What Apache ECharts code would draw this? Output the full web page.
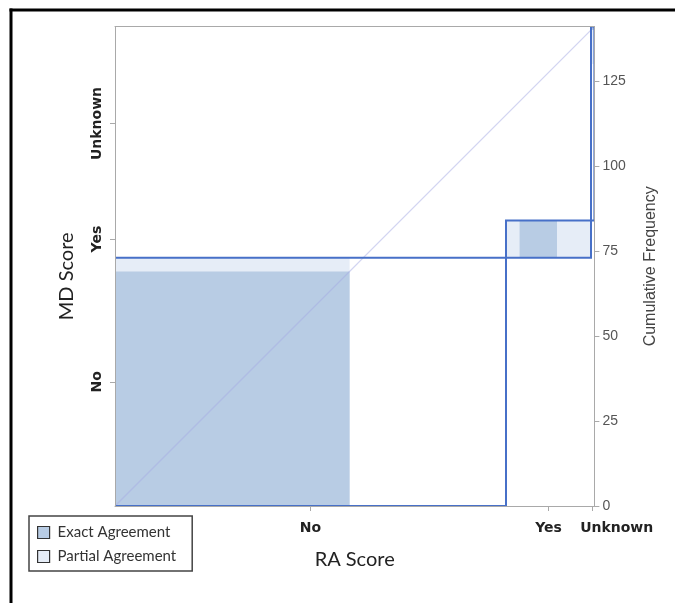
<!DOCTYPE html>
<html>
<head>
<meta charset="utf-8">
<script src="https://cdn.jsdelivr.net/npm/echarts@6/dist/echarts.min.js"></script>
<style>
html,body{margin:0;padding:0;background:#fff;}
#chart{width:675px;height:603px;}
</style>
</head>
<body>
<div id="chart"></div>
<script>
// Categories (same for both raters)
const categories = ['No', 'Yes', 'Unknown'];
// Cell counts: one array per RA score, entries by MD score (No, Yes, Unknown)
const raNo = [69, 0, 46];
const raYes = [4, 11, 10];
const raUnknown = [0, 0, 1];
// Right axis tick labels
const rightTicks = [0, 25, 50, 75, 100, 125];

const table = [raNo, raYes, raUnknown];
const K = categories.length;
const rowTot = table.map(r => r.reduce((a, b) => a + b, 0));
const colTot = categories.map((_, j) => table.reduce((a, r) => a + r[j], 0));
const N = rowTot.reduce((a, b) => a + b, 0);
const cumR = [0], cumM = [0];
for (let i = 0; i < K; i++) { cumR.push(cumR[i] + rowTot[i]); cumM.push(cumM[i] + colTot[i]); }

const outlineData = [], exactData = [], partialData = [];
for (let i = 0; i < K; i++) {
  outlineData.push([cumR[i], cumM[i], cumR[i + 1], cumM[i + 1]]);
  let sx = 0, sy = 0;
  for (let m = 0; m < i; m++) sx += table[i][m];
  for (let r = 0; r < i; r++) sy += table[r][i];
  const ex0 = cumR[i] + sx, ey0 = cumM[i] + sy;
  exactData.push([ex0, ey0, ex0 + table[i][i], ey0 + table[i][i]]);
  let px = 0, py = 0;
  for (let m = 0; m < i - 1; m++) px += table[i][m];
  for (let r = 0; r < i - 1; r++) py += table[r][i];
  let wx = 0, wy = 0;
  for (let d = -1; d <= 1; d++) {
    const k = i + d;
    if (k >= 0 && k < K) { wx += table[i][k]; wy += table[k][i]; }
  }
  const px0 = cumR[i] + px, py0 = cumM[i] + py;
  partialData.push([px0, py0, px0 + wx, py0 + wy]);
}
const midR = categories.map((_, i) => (cumR[i] + cumR[i + 1]) / 2);
const midM = categories.map((_, i) => (cumM[i] + cumM[i + 1]) / 2);

function idxAt(mids, v) {
  let best = 0;
  for (let i = 0; i < mids.length; i++) if (Math.abs(mids[i] - v) < Math.abs(mids[best] - v)) best = i;
  return best;
}

function rectRenderer(style) {
  return function (params, api) {
    const p0 = api.coord([api.value(0), api.value(1)]);
    const p1 = api.coord([api.value(2), api.value(3)]);
    return {
      type: 'rect',
      shape: { x: p0[0], y: p1[1], width: p1[0] - p0[0], height: p0[1] - p1[1] },
      style: style
    };
  };
}

const EXACT = '#b8cce4', PARTIAL = '#e6edf7', OUTLINE = '#4770c8', AXIS = '#a9a9a9';
const boldLab = { fontFamily: 'DejaVu Sans', fontWeight: 'bold', fontSize: 14, color: '#222' };

const chart = echarts.init(document.getElementById('chart'), null, { renderer: 'canvas' });
chart.setOption({
  animation: false,
  backgroundColor: '#fff',
  grid: { left: 115, right: 80.6, top: 26.6, bottom: 97 },
  legend: {
    orient: 'vertical', left: 29, top: 516, selectedMode: false,
    data: ['Exact Agreement', 'Partial Agreement'],
    icon: 'rect', itemWidth: 12, itemHeight: 12, itemGap: 9,
    padding: [9, 16, 7, 8],
    borderColor: '#444', borderWidth: 1.5,
    textStyle: { fontFamily: 'Lato', fontSize: 15, color: '#333', padding: [0, 0, 0, 3] },
    itemStyle: { borderColor: '#333', borderWidth: 1.2 }
  },
  xAxis: [{
    type: 'value', position: 'bottom', min: 0, max: N, zlevel: 1,
    axisLine: { show: true, onZero: false, lineStyle: { color: AXIS, width: 1 } },
    axisTick: { show: true, length: 5, customValues: midR, lineStyle: { color: AXIS } },
    axisLabel: Object.assign({
      customValues: midR, margin: 15, showMinLabel: true, showMaxLabel: true,
      formatter: v => { const i = idxAt(midR, v); return i === K - 1 ? '{s|' + categories[i] + '}' : categories[i]; },
      rich: { s: Object.assign({ padding: [0, 0, 0, 48] }, boldLab) }
    }, boldLab),
    splitLine: { show: false },
    name: 'RA Score', nameLocation: 'middle', nameGap: 44,
    nameTextStyle: { fontFamily: 'Lato', fontSize: 20, color: '#222' }
  }, {
    type: 'value', position: 'top', min: 0, max: N, zlevel: 1,
    axisLine: { show: true, onZero: false, lineStyle: { color: AXIS, width: 1 } },
    axisTick: { show: false }, axisLabel: { show: false }, splitLine: { show: false }
  }],
  yAxis: [{
    type: 'value', position: 'left', min: 0, max: N, zlevel: 1,
    axisLine: { show: true, onZero: false, lineStyle: { color: AXIS, width: 1 } },
    axisTick: { show: true, length: 5, customValues: midM, lineStyle: { color: AXIS } },
    axisLabel: Object.assign({
      customValues: midM, rotate: 90, margin: 11, showMinLabel: true, showMaxLabel: true,
      formatter: v => categories[idxAt(midM, v)]
    }, boldLab),
    splitLine: { show: false },
    name: 'MD Score', nameLocation: 'middle', nameGap: 38,
    nameTextStyle: { fontFamily: 'Lato', fontSize: 20, color: '#222', padding: [0, 20, 0, 0] }
  }, {
    type: 'value', position: 'right', min: 0, max: N, zlevel: 1,
    axisLine: { show: true, onZero: false, lineStyle: { color: AXIS, width: 1 } },
    axisTick: { show: true, length: 5, customValues: rightTicks, lineStyle: { color: AXIS } },
    axisLabel: { customValues: rightTicks, margin: 8, showMinLabel: true, fontFamily: 'Liberation Sans', fontSize: 14, color: '#555' },
    splitLine: { show: false },
    name: 'Cumulative Frequency', nameLocation: 'middle', nameGap: 48, nameRotate: 90,
    nameTextStyle: { fontFamily: 'Liberation Sans', fontSize: 16, color: '#444' }
  }],
  series: [{
    name: 'Partial Agreement', type: 'custom', xAxisIndex: 0, yAxisIndex: 0,
    renderItem: rectRenderer({ fill: PARTIAL }),
    itemStyle: { color: PARTIAL },
    encode: { x: [0, 2], y: [1, 3] }, data: partialData, z: 2, silent: true
  }, {
    name: 'Exact Agreement', type: 'custom', xAxisIndex: 0, yAxisIndex: 0,
    renderItem: rectRenderer({ fill: EXACT }),
    itemStyle: { color: EXACT },
    encode: { x: [0, 2], y: [1, 3] }, data: exactData, z: 3, silent: true
  }, {
    name: 'diag', type: 'line', xAxisIndex: 0, yAxisIndex: 0,
    data: [[0, 0], [N, N]], symbol: 'none', silent: true, z: 4,
    lineStyle: { color: 'rgba(165,172,228,0.5)', width: 1.3 }
  }, {
    name: 'outline', type: 'custom', xAxisIndex: 0, yAxisIndex: 0,
    renderItem: rectRenderer({ fill: 'none', stroke: OUTLINE, lineWidth: 2 }),
    encode: { x: [0, 2], y: [1, 3] }, data: outlineData, z: 5, silent: true, clip: true
  }],
  graphic: [
    { type: 'line', shape: { x1: 9.5, y1: 10, x2: 675, y2: 10 }, style: { stroke: '#000', lineWidth: 3 }, z: 100 },
    { type: 'line', shape: { x1: 11, y1: 8.5, x2: 11, y2: 603 }, style: { stroke: '#000', lineWidth: 3 }, z: 100 }
  ]
});
</script>
</body>
</html>
